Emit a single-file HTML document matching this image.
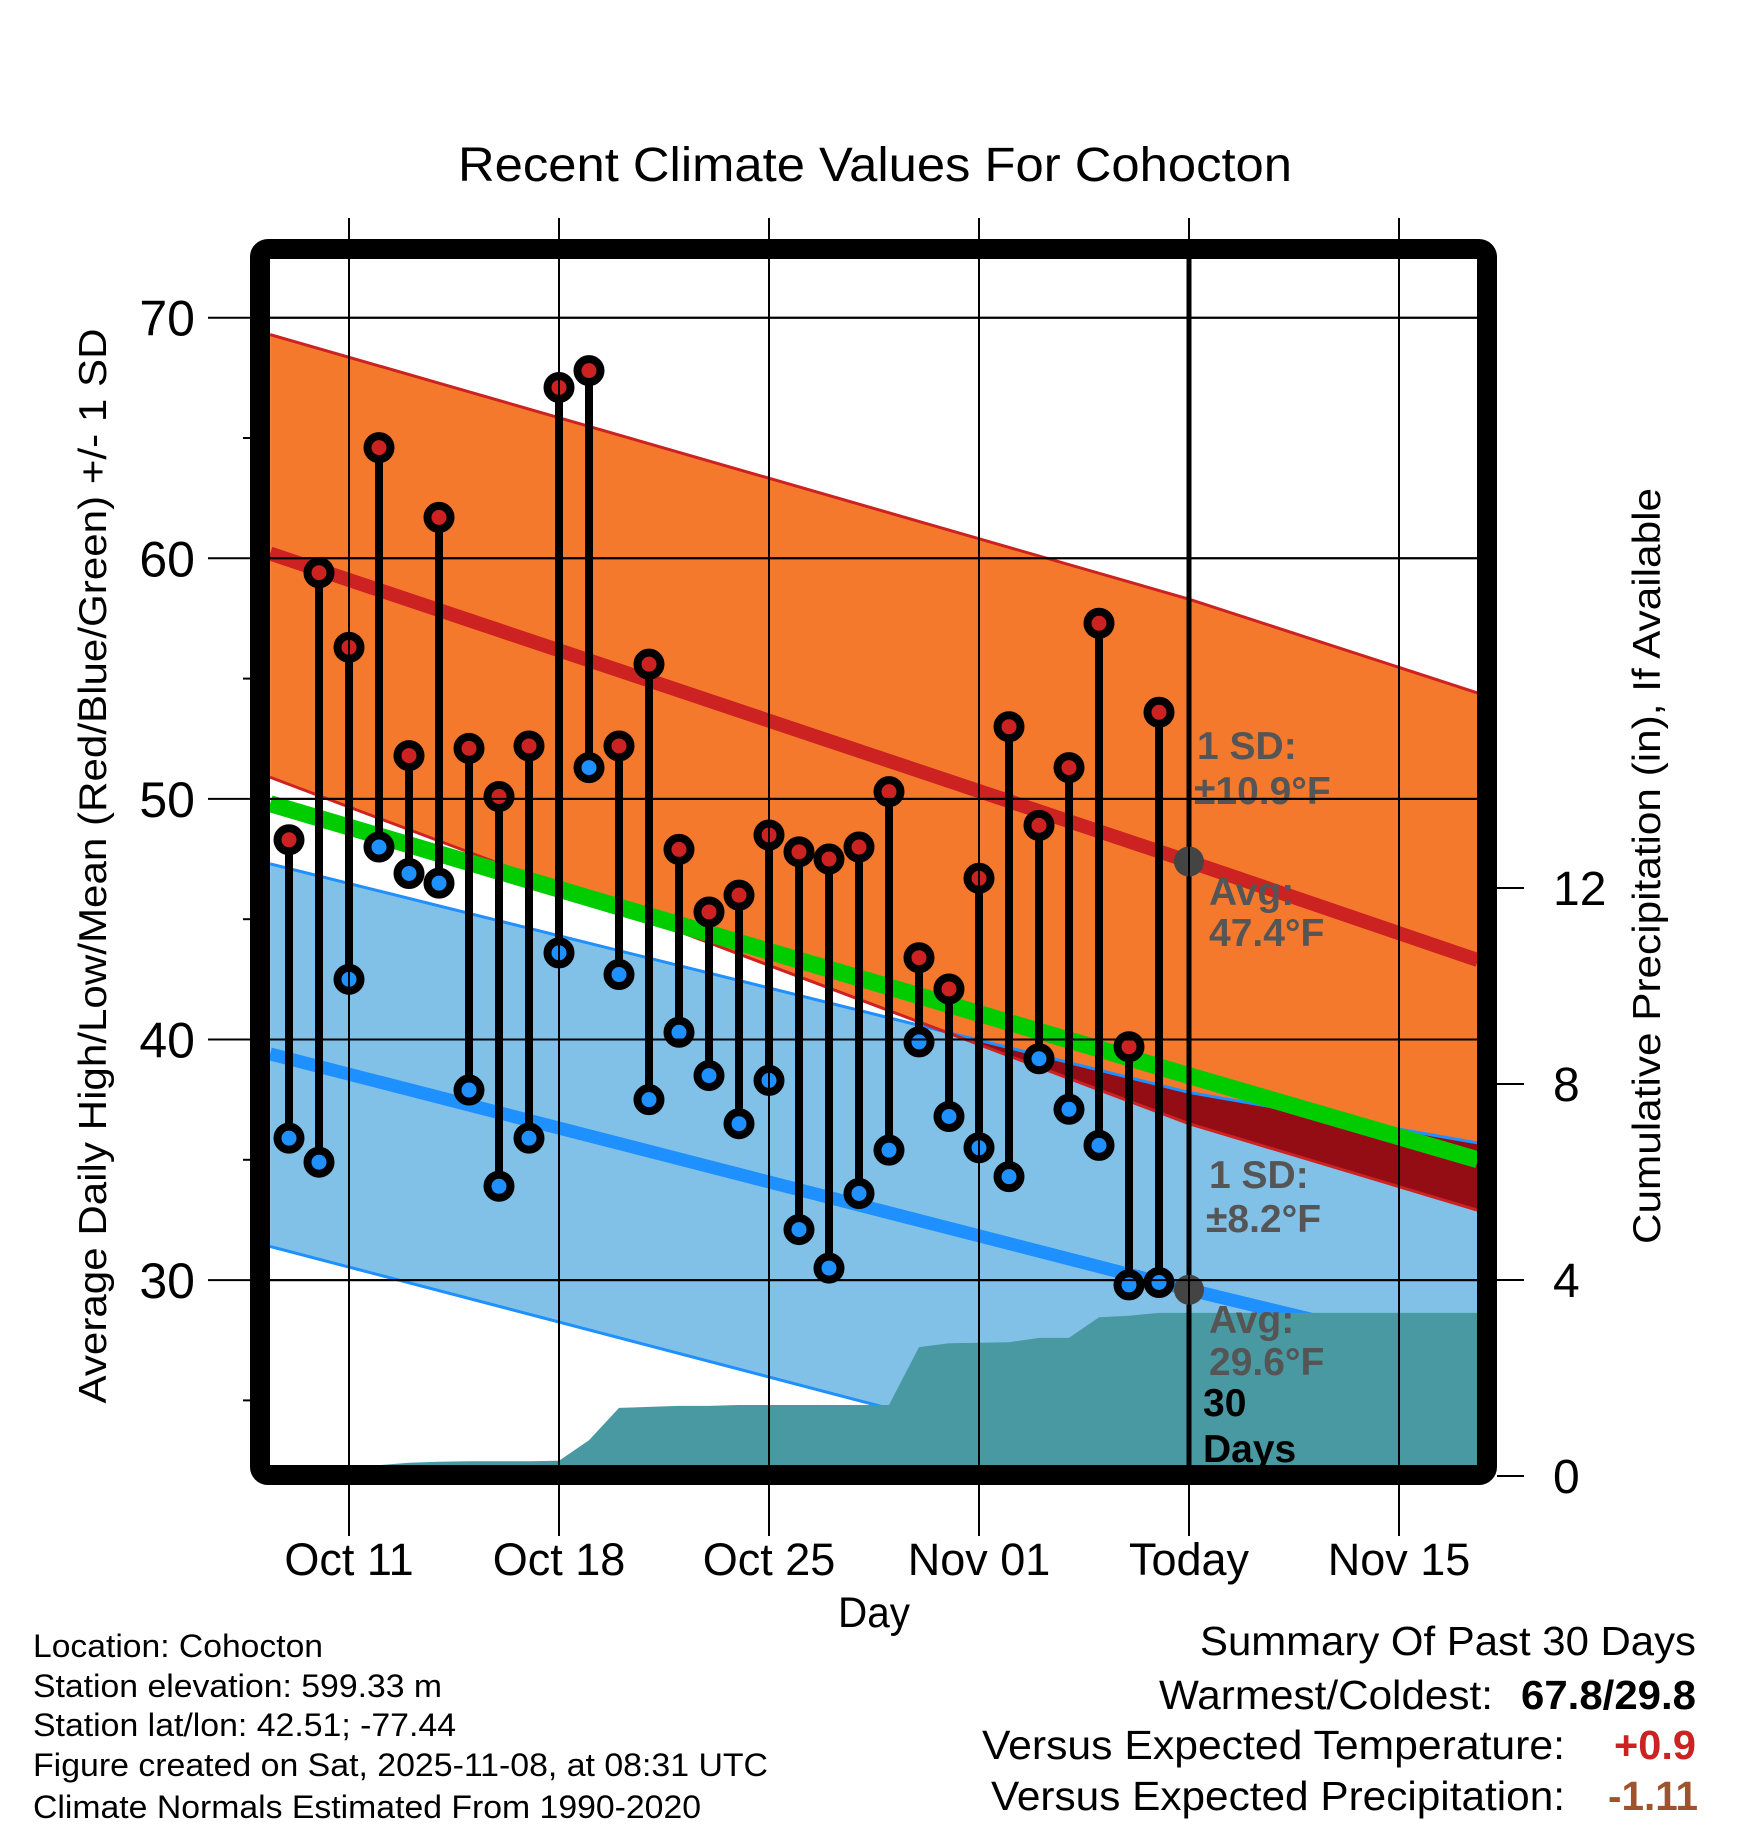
<!DOCTYPE html>
<html><head><meta charset="utf-8"><title>Recent Climate Values For Cohocton</title>
<style>html,body{margin:0;padding:0;background:#fff}svg{display:block;font-family:"Liberation Sans",Arial,sans-serif}</style>
</head><body>
<svg id="chart" width="1748" height="1828" viewBox="0 0 1748 1828" xmlns="http://www.w3.org/2000/svg">
<defs><clipPath id="plotclip"><rect x="270" y="259" width="1208" height="1207"/></clipPath></defs>
<text x="458" y="181" font-size="48" textLength="834" lengthAdjust="spacingAndGlyphs">Recent Climate Values For Cohocton</text>
<g id="plot" clip-path="url(#plotclip)"></g>
<g id="axes"></g>
<rect x="260" y="249" width="1227" height="1226" rx="8" fill="none" stroke="#000" stroke-width="20"/>
<text transform="translate(106,866) rotate(-90)" font-size="39" text-anchor="middle" textLength="1075" lengthAdjust="spacingAndGlyphs">Average Daily High/Low/Mean (Red/Blue/Green) +/- 1 SD</text>
<text transform="translate(1660,866) rotate(-90)" font-size="39" text-anchor="middle" textLength="756" lengthAdjust="spacingAndGlyphs">Cumulative Precipitation (in), If Available</text>
<text x="838" y="1627" font-size="43" textLength="72" lengthAdjust="spacingAndGlyphs">Day</text>
<g font-size="32">
<text x="33" y="1657" textLength="290" lengthAdjust="spacingAndGlyphs">Location: Cohocton</text>
<text x="33" y="1697" textLength="409" lengthAdjust="spacingAndGlyphs">Station elevation: 599.33 m</text>
<text x="33" y="1736" textLength="423" lengthAdjust="spacingAndGlyphs">Station lat/lon: 42.51; -77.44</text>
<text x="33" y="1776" textLength="735" lengthAdjust="spacingAndGlyphs">Figure created on Sat, 2025-11-08, at 08:31 UTC</text>
<text x="33" y="1818" textLength="668" lengthAdjust="spacingAndGlyphs">Climate Normals Estimated From 1990-2020</text>
</g>
<g font-size="41">
<text x="1200" y="1655" textLength="496" lengthAdjust="spacingAndGlyphs">Summary Of Past 30 Days</text>
<text x="1159" y="1709" textLength="334" lengthAdjust="spacingAndGlyphs">Warmest/Coldest:</text>
<text x="1521" y="1709" font-weight="bold" textLength="175" lengthAdjust="spacingAndGlyphs">67.8/29.8</text>
<text x="982" y="1759" textLength="583" lengthAdjust="spacingAndGlyphs">Versus Expected Temperature:</text>
<text x="1614" y="1759" font-weight="bold" fill="#cc2222" textLength="82" lengthAdjust="spacingAndGlyphs">+0.9</text>
<text x="991" y="1810" textLength="574" lengthAdjust="spacingAndGlyphs">Versus Expected Precipitation:</text>
<text x="1608" y="1810" font-weight="bold" fill="#a0522d" textLength="90" lengthAdjust="spacingAndGlyphs">-1.11</text>
</g>
</svg>
<script>
// days relative to Oct 09
const highs = [48.3,59.4,56.3,64.6,51.8,61.7,52.1,50.1,52.2,67.1,67.8,52.2,55.6,47.9,45.3,46.0,48.5,47.8,47.5,48.0,50.3,43.4,42.1,46.7,53.0,48.9,51.3,57.3,39.7,53.6];
const lows = [35.9,34.9,42.5,48.0,46.9,46.5,37.9,33.9,35.9,43.6,51.3,42.7,37.5,40.3,38.5,36.5,38.3,32.1,30.5,33.6,35.4,39.9,36.8,35.5,34.3,39.2,37.1,35.6,29.8,29.9];
const precip = [null,null,0.16,0.22,0.27,0.29,0.3,0.3,0.3,0.31,0.73,1.39,1.41,1.43,1.43,1.45,1.45,1.45,1.45,1.45,1.45,2.63,2.71,2.72,2.73,2.82,2.82,3.24,3.27,3.33];
const normalDays = [-0.63, 30, 39.63];
const hiAvg = [60.2, 47.4, 43.3];
const hiUpper = [69.3, 58.3, 54.4];
const hiLower = [50.9, 36.5, 32.9];
const loAvg = [39.4, 29.6, 26.7];
const loUpper = [47.3, 37.8, 35.7];
const loLower = [31.4, 21.4, 18.6];
const meanAvg = [49.8, 38.5, 35.0];
const tempTicks = [30,40,50,60,70];
const minorTicks = [25,35,45,55,65];
const precipTicks = [0,4,8,12];
const xTickDays = [2,9,16,23,30,37];
const xTickLabels = ["Oct 11","Oct 18","Oct 25","Nov 01","Today","Nov 15"];
const todayDay = 30;

const NS="http://www.w3.org/2000/svg";
const X = d => 289 + 30*d;
const Y = t => 317.7 + (70 - t)*24.06;
const P = p => 1476 - p*49;
const plot = document.getElementById('plot');
const axes = document.getElementById('axes');
function mk(tag, attrs, parent){const e=document.createElementNS(NS,tag);for(const k in attrs)e.setAttribute(k,attrs[k]);parent.appendChild(e);return e;}
const pts = arr => normalDays.map((d,i)=>X(d)+','+Y(arr[i])).join(' ');
const band = (a,b) => pts(a)+' '+normalDays.map((d,i)=>[X(d),Y(b[i])]).reverse().map(p=>p.join(',')).join(' ');

let e = mk('polygon',{points:band(loUpper,loLower),fill:'#82c1e7'},plot);
 
const defs=document.querySelector('defs');
const cp=mk('clipPath',{id:'lowclip'},defs);
mk('polygon',{points:band(loUpper,loLower)},cp);
e = mk('polygon',{points:band(hiUpper,hiLower),fill:'#f5792d'},plot);
 
e = mk('polygon',{points:band(hiUpper,hiLower),fill:'#940d15','clip-path':'url(#lowclip)'},plot);
 
e = mk('polyline',{points:pts(loUpper),fill:'none',stroke:'#1e90ff','stroke-width':3},plot);
 
e = mk('polyline',{points:pts(loLower),fill:'none',stroke:'#1e90ff','stroke-width':3},plot);
 
e = mk('polyline',{points:pts(hiUpper),fill:'none',stroke:'#cc2222','stroke-width':3},plot);
 
e = mk('polyline',{points:pts(hiLower),fill:'none',stroke:'#cc2222','stroke-width':3},plot);
 
e = mk('polyline',{points:pts(meanAvg),fill:'none',stroke:'#00cc00','stroke-width':17},plot);
 
e = mk('polyline',{points:pts(hiAvg),fill:'none',stroke:'#cc2222','stroke-width':14},plot);
 
e = mk('polyline',{points:pts(loAvg),fill:'none',stroke:'#1e90ff','stroke-width':13},plot);
 

tempTicks.forEach(t=>{
  const g=mk('line',{x1:208,x2:1497,y1:Y(t),y2:Y(t),stroke:'#000','stroke-width':2},axes);
   
  const tx=mk('text',{x:195,y:Y(t)+18,'font-size':50,'text-anchor':'end'},axes);
  tx.textContent=t;
   
});
tempTicks.forEach(t=>{
  const g=mk('line',{x1:270,x2:1478,y1:Y(t),y2:Y(t),stroke:'#000','stroke-width':2},plot);
   
});
minorTicks.forEach(t=>{
  const g=mk('line',{x1:243,x2:252,y1:Y(t),y2:Y(t),stroke:'#000','stroke-width':2},axes);
   
});
xTickDays.forEach((d,i)=>{
  const g=mk('line',{x1:X(d),x2:X(d),y1:218,y2:1536,stroke:'#000','stroke-width':2},axes);
   
  const tx=mk('text',{x:X(d),y:1575,'font-size':45,'text-anchor':'middle'},axes);
  tx.textContent=xTickLabels[i];
   
});
precipTicks.forEach(p=>{
  const g=mk('line',{x1:1497,x2:1524,y1:P(p),y2:P(p),stroke:'#000','stroke-width':2},axes);
   
  const tx=mk('text',{x:1553,y:P(p)+17,'font-size':48,'text-anchor':'start'},axes);
  tx.textContent=p;
   
});

// precipitation area
let first = precip.findIndex(v=>v!==null);
let pp = X(first)+','+(P(0)+10)+' ';
precip.forEach((v,i)=>{ if(v!==null) pp+=X(i)+','+P(v)+' ';});
pp += X(39.63)+','+P(precip[precip.length-1])+' '+X(39.63)+','+(P(0)+10);
e = mk('polygon',{points:pp,fill:'#4899a2'},plot);
 
e = mk('line',{x1:X(todayDay),x2:X(todayDay),y1:259,y2:1466,stroke:'#000','stroke-width':5},plot);
 

highs.forEach((h,i)=>{
  const s=mk('line',{x1:X(i),x2:X(i),y1:Y(h),y2:Y(lows[i]),stroke:'#000','stroke-width':8},plot);
   
});
highs.forEach((h,i)=>{
  const c=mk('circle',{cx:X(i),cy:Y(h),r:11.5,fill:'#cc2222',stroke:'#000','stroke-width':8},plot);
   
  const c2=mk('circle',{cx:X(i),cy:Y(lows[i]),r:11.5,fill:'#1e90ff',stroke:'#000','stroke-width':8},plot);
   
});
e = mk('circle',{cx:X(todayDay),cy:Y(hiAvg[1]),r:15,fill:'#444'},plot);
 
e = mk('circle',{cx:X(todayDay),cy:Y(loAvg[1]),r:15,fill:'#444'},plot);
 

const notes=[
 ['1 SD:',1197,759,'#555','high-sd-label'],['±10.9°F',1194,804,'#555','high-sd-value'],
 ['Avg:',1209,905,'#555','high-avg-label'],['47.4°F',1209,946,'#555','high-avg-value'],
 ['1 SD:',1209,1188,'#555','low-sd-label'],['±8.2°F',1206,1232,'#555','low-sd-value'],
 ['Avg:',1209,1333,'#555','low-avg-label'],['29.6°F',1209,1375,'#555','low-avg-value'],
 ['30',1203,1416,'#000','days-count'],['Days',1203,1462,'#000','days-label']];
notes.forEach(n=>{
  const t=mk('text',{x:n[1],y:n[2],'font-size':39,'font-weight':'bold',fill:n[3]},plot);
  t.textContent=n[0];
  
  
});
</script>
</body></html>
